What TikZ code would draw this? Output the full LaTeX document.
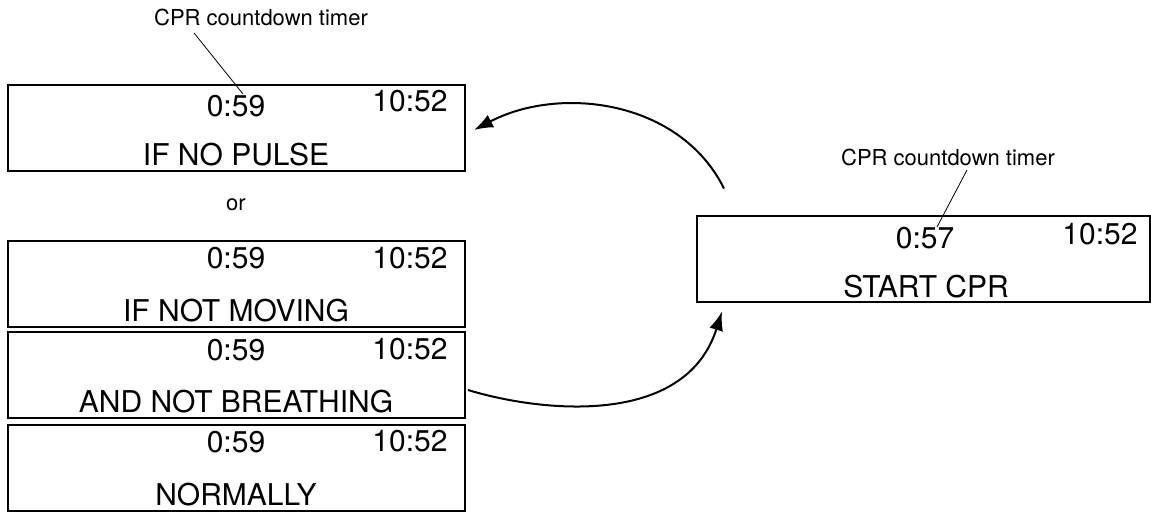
\documentclass[tikz,border=0pt]{standalone}
\usepackage{fontspec}
\setmainfont{TeX Gyre Heros}
\usetikzlibrary{arrows.meta}
\tikzset{
  screen/.style = {draw, line width=1pt, minimum width=228.5pt, minimum height=43pt, inner sep=0pt},
  readout/.style = {font=\fontsize{15}{15}\selectfont, inner sep=0pt},
  callout/.style = {font=\fontsize{11}{11}\selectfont, inner sep=0pt},
  leader/.style = {line width=0.4pt},
  flow/.style = {line width=1pt, -{Latex[length=9.5pt,width=7pt]}}
}
\begin{document}
\begin{tikzpicture}[x=0.5pt,y=-0.5pt]
\useasboundingbox (0,0) rectangle (1151,512);

  \foreach \i/\y/\dy/\msg in {1/128/22/IF NO PULSE, 2/284.5/26.5/IF NOT MOVING,
                              3/375.5/25.5/AND NOT BREATHING, 4/468/26/NORMALLY}{
     \node[screen] (scr\i) at (236.5,\y) {};
     \node[readout] (cd\i) at (236,\y-\dy) {0:59};
     \node[readout] (clk\i) at (410,\y-26.5) {10:52};
     \node[readout] (msg\i) at (236,\y+26.5) {\msg};
  }

  \node[callout] (or) at (236,205) {or};

  \node[screen, minimum width=226.5pt] (scr5) at (923.5,259.5) {};
  \node[readout] (cd5) at (925,238) {0:57};
  \node[readout] (clk5) at (1100,234) {10:52};
  \node[readout] (msg5) at (926,287) {START CPR};

  \node[callout] (lbl1) at (261,17) {CPR countdown timer};
  \coordinate (lead1) at (194,33);
  \coordinate (tip1) at (243,94);
  \draw[leader] (lead1) -- (tip1);

  \node[callout] (lbl5) at (948,157) {CPR countdown timer};
  \coordinate (lead5) at (967,170);
  \coordinate (tip5) at (937,227);
  \draw[leader] (lead5) -- (tip5);

  \draw[flow] ([xshift=14pt,yshift=13.5pt]scr5.north west)
     .. controls (680,100) and (560,85) .. ([xshift=4pt,yshift=-1pt]scr1.east);
  \draw[flow] ([xshift=1pt,yshift=-7.25pt]scr3.east)
     .. controls (540,412) and (685,428) .. ([xshift=13pt,yshift=-4pt]scr5.south west);

\end{tikzpicture}
\end{document}
